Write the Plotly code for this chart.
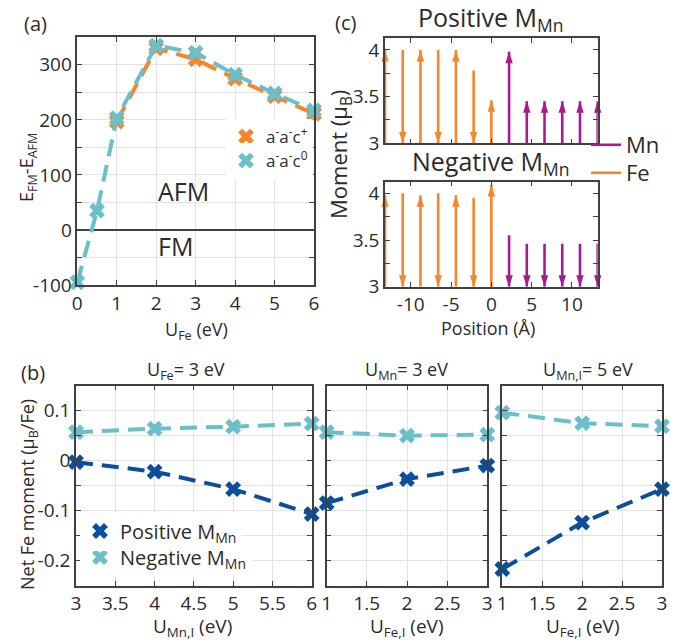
import plotly.graph_objects as go

W, H = 677, 640
FONT = "Open Sans"
ORANGE = "#F5862B"
CYAN = "#6BBFC8"
NAVY = "#0B4F9C"
MAGENTA = "#A61C8E"
AX = "#404040"
GRID = "#E3E3E3"
TXT = "#2b2b2b"
DASH = "17px,9px"

# ---------------- panel (a) data ----------------
u_fe_plus = [1, 2, 3, 4, 5, 6]
e_plus = [197, 330, 310, 275, 243, 211]
u_fe_zero = [0, 0.5, 1, 2, 3, 4, 5, 6]
e_zero = [-95, 35, 203, 335, 322, 282, 248, 217]
a_xticks = [0, 1, 2, 3, 4, 5, 6]
a_yticks = [-100, -50, 0, 50, 100, 150, 200, 250, 300]
a_ytext = ["-100", "", "0", "", "100", "", "200", "", "300"]

# ---------------- panel (b) data ----------------
u_mn_i = [3, 4, 5, 6]
pos_left = [-0.003, -0.022, -0.057, -0.107]
neg_left = [0.057, 0.064, 0.068, 0.074]
u_fe_i = [1, 2, 3]
pos_mid = [-0.085, -0.037, -0.010]
neg_mid = [0.057, 0.050, 0.052]
pos_right = [-0.217, -0.124, -0.057]
neg_right = [0.096, 0.075, 0.069]
b_yticks = [-0.2, -0.15, -0.1, -0.05, 0, 0.05, 0.1]
b_ytext = ["-0.2", "", "-0.1", "", "0", "", "0.1"]
b_xticks_left = [3, 3.5, 4, 4.5, 5, 5.5, 6]
b_xtext_left = ["3", "3.5", "4", "4.5", "5", "5.5", "6"]
b_xticks_fe = [1, 1.5, 2, 2.5, 3]
b_xtext_fe = ["1", "1.5", "2", "2.5", "3"]

# ---------------- panel (c) data ----------------
fe_pos = [-13.2, -11.0, -8.8, -6.6, -4.4, -2.2, 0.0]
mn_pos = [2.2, 4.4, 6.6, 8.8, 11.0, 13.2]
fe_mom_posMn = [4.0, -4.0, 4.0, -4.0, 4.0, -3.78, 3.46]
mn_mom_posMn = [3.98, 3.45, 3.45, 3.45, 3.45, 3.45]
fe_mom_negMn = [3.98, -4.0, 3.98, -4.0, 3.98, -3.95, 4.09]
mn_mom_negMn = [-3.55, -3.46, -3.46, -3.46, -3.46, -3.46]
c_xticks = [-10, -5, 0, 5, 10]
c_xtext = ["-10", "-5", "0", "5", "10"]
c_yticks = [3, 3.25, 3.5, 3.75, 4]
c_ytext = ["3", "", "3.5", "", "4"]
BASE = 3.0

fig = go.Figure()


def dashed(x, y, color, xa, ya):
    fig.add_trace(go.Scatter(x=x, y=y, mode="lines", xaxis=xa, yaxis=ya,
                             line=dict(color=color, width=4, dash=DASH),
                             showlegend=False, cliponaxis=False, hoverinfo="skip"))


def xmarks(x, y, color, xa, ya, name=None, legend=None):
    fig.add_trace(go.Scatter(x=x, y=y, mode="markers", xaxis=xa, yaxis=ya,
                             marker=dict(symbol="x", size=14, color=color, line=dict(width=0)),
                             name=name, showlegend=name is not None,
                             legend=legend, cliponaxis=False))


# panel (a)
dashed(u_fe_plus, e_plus, ORANGE, "x", "y")
xmarks(u_fe_plus, e_plus, ORANGE, "x", "y", "a<sup>-</sup>a<sup>-</sup>c<sup>+</sup>", "legend")
dashed(u_fe_zero, e_zero, CYAN, "x", "y")
xmarks(u_fe_zero, e_zero, CYAN, "x", "y", "a<sup>-</sup>a<sup>-</sup>c<sup>0</sup>", "legend2")

# panel (b)
for xs, pos, neg, xa, ya, leg in [
    (u_mn_i, pos_left, neg_left, "x4", "y4", True),
    (u_fe_i, pos_mid, neg_mid, "x5", "y5", False),
    (u_fe_i, pos_right, neg_right, "x6", "y6", False),
]:
    dashed(xs, neg, CYAN, xa, ya)
    dashed(xs, pos, NAVY, xa, ya)
    xmarks(xs, neg, CYAN, xa, ya, "Negative M<sub>Mn</sub>" if leg else None, "legend3")
    xmarks(xs, pos, NAVY, xa, ya, "Positive M<sub>Mn</sub>" if leg else None, "legend4")


# panel (c)
def stems(pos, mom, color, xa, ya, name=None, legend=None):
    xs, ys = [], []
    for p, m in zip(pos, mom):
        xs += [p, p, None]
        ys += [BASE, abs(m), None]
    fig.add_trace(go.Scatter(x=xs, y=ys, mode="lines", xaxis=xa, yaxis=ya,
                             line=dict(color=color, width=2.6),
                             name=name, showlegend=name is not None, legend=legend,
                             cliponaxis=False, hoverinfo="skip"))
    hy = [abs(m) if m > 0 else BASE for m in mom]
    ang = [0 if m > 0 else 180 for m in mom]
    fig.add_trace(go.Scatter(x=pos, y=hy, mode="markers", xaxis=xa, yaxis=ya,
                             marker=dict(symbol="arrow", size=12, color=color, angle=ang,
                                         line=dict(width=0)),
                             showlegend=False, cliponaxis=False, hoverinfo="skip"))


stems(fe_pos, fe_mom_posMn, ORANGE, "x2", "y2", "Fe", "legend6")
stems(mn_pos, mn_mom_posMn, MAGENTA, "x2", "y2", "Mn", "legend5")
stems(fe_pos, fe_mom_negMn, ORANGE, "x3", "y3")
stems(mn_pos, mn_mom_negMn, MAGENTA, "x3", "y3")


def px_x(a, b):
    return [a / W, b / W]


def px_y(top, bottom):
    return [1 - bottom / H, 1 - top / H]


def ax(**kw):
    d = dict(showline=True, linecolor=AX, linewidth=1.5, mirror="ticks", ticks="inside",
             ticklen=5, tickwidth=1.2, tickcolor=AX, zeroline=False, showgrid=False,
             tickfont=dict(family=FONT, size=19, color=TXT), tickmode="array",
             gridcolor=GRID, gridwidth=1.2, automargin=False)
    d.update(kw)
    return d


def leg(x, y, size, bg="white"):
    return dict(x=x / W, y=1 - y / H, xanchor="left", yanchor="middle", bgcolor=bg,
                font=dict(family=FONT, size=size, color=TXT), borderwidth=0)


fig.update_layout(
    width=W, height=H, margin=dict(l=0, r=0, t=0, b=0, autoexpand=False),
    paper_bgcolor="white", plot_bgcolor="white",
    font=dict(family=FONT, size=18, color=TXT),
    # (a)
    xaxis=ax(domain=px_x(77.3, 314), range=[0, 6], tickvals=a_xticks,
             ticktext=[str(v) for v in a_xticks], showgrid=True, anchor="y"),
    yaxis=ax(domain=px_y(37.3, 285), range=[-100, 350], tickvals=a_yticks, ticktext=a_ytext,
             showgrid=True, zeroline=True, zerolinecolor=AX, zerolinewidth=1.5, anchor="x"),
    # (c) top
    xaxis2=ax(domain=px_x(385, 597.7), range=[-13.2, 13.2], tickvals=c_xticks,
              ticktext=c_xtext, showticklabels=False, anchor="y2"),
    yaxis2=ax(domain=px_y(38.3, 143.3), range=[3, 4.125], tickvals=c_yticks,
              ticktext=c_ytext, anchor="x2"),
    # (c) bottom
    xaxis3=ax(domain=px_x(385, 597.7), range=[-13.2, 13.2], tickvals=c_xticks,
              ticktext=c_xtext, anchor="y3"),
    yaxis3=ax(domain=px_y(181.7, 286.7), range=[3, 4.125], tickvals=c_yticks,
              ticktext=c_ytext, anchor="x3"),
    # (b)
    xaxis4=ax(domain=px_x(76, 311.7), range=[3, 6], tickvals=b_xticks_left,
              ticktext=b_xtext_left, showgrid=True, anchor="y4"),
    yaxis4=ax(domain=px_y(385.7, 585.5), range=[-0.25, 0.15], tickvals=b_yticks,
              ticktext=b_ytext, showgrid=True, anchor="x4"),
    xaxis5=ax(domain=px_x(326.7, 487.3), range=[1, 3], tickvals=b_xticks_fe,
              ticktext=b_xtext_fe, showgrid=True, anchor="y5"),
    yaxis5=ax(domain=px_y(385.7, 585.5), range=[-0.25, 0.15], tickvals=b_yticks,
              ticktext=b_ytext, showgrid=True, showticklabels=False, anchor="x5"),
    xaxis6=ax(domain=px_x(502.3, 662), range=[1, 3], tickvals=b_xticks_fe,
              ticktext=b_xtext_fe, showgrid=True, anchor="y6"),
    yaxis6=ax(domain=px_y(385.7, 585.5), range=[-0.25, 0.15], tickvals=b_yticks,
              ticktext=b_ytext, showgrid=True, showticklabels=False, anchor="x6"),
    legend=leg(226, 137, 17),
    legend2=leg(226, 161, 17),
    legend3=leg(80, 557, 20),
    legend4=leg(80, 531, 20),
    legend5=leg(586, 145, 22, "rgba(0,0,0,0)"),
    legend6=leg(586, 173, 22, "rgba(0,0,0,0)"),
)


def note(text, x, y, size=18, angle=0, xref="paper", yref="paper"):
    if xref == "paper":
        x = x / W
    if yref == "paper":
        y = 1 - y / H
    fig.add_annotation(text=text, x=x, y=y, xref=xref, yref=yref, showarrow=False,
                       textangle=angle, xanchor="center", yanchor="middle",
                       font=dict(family=FONT, size=size, color=TXT))


# panel labels
note("(a)", 35, 24, 20)
note("(b)", 33, 372, 20)
note("(c)", 345, 23, 20)
# (a)
note("AFM", 2.68, 71, 25, xref="x", yref="y")
note("FM", 2.48, -30, 25, xref="x", yref="y")
note("U<sub>Fe</sub> (eV)", 196, 330)
note("E<sub>FM</sub>-E<sub>AFM</sub>", 28, 168, angle=-90)
# (c)
note("Positive M<sub>Mn</sub>", 491, 19, 25)
note("Negative M<sub>Mn</sub>", 491, 163, 25)
note("Moment (μ<sub>B</sub>)", 340, 155, 22, angle=-90)
note("Position (Å)", 488, 328)
# (b)
note("U<sub>Fe</sub>= 3 eV", 186, 370, 18)
note("U<sub>Mn</sub>= 3 eV", 406, 370, 18)
note("U<sub>Mn,I</sub>= 5 eV", 588, 370, 18)
note("U<sub>Mn,I</sub> (eV)", 192, 627, 19)
note("U<sub>Fe,I</sub> (eV)", 406, 627, 19)
note("U<sub>Fe,I</sub> (eV)", 582, 627, 19)
note("Net Fe moment (μ<sub>B</sub>/Fe)", 28, 495, angle=-90)

fig.write_html(
    "out.html",
    config={"displayModeBar": False},
    post_script="document.body.style.margin='0px';document.body.style.overflow='hidden';",
)
